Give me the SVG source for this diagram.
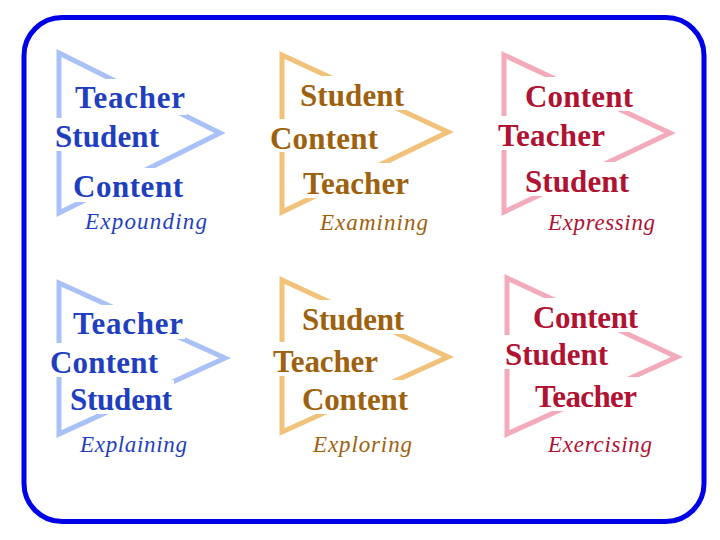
<svg xmlns="http://www.w3.org/2000/svg" width="720" height="540" viewBox="0 0 720 540">
<style>
.tri{fill:none;stroke-width:5;stroke-linejoin:miter}
.blue{stroke:#a9c1f6}
.orange{stroke:#f0c27a}
.pink{stroke:#f3aabb}
.bg{fill:#ffffff}
.w{font-family:"Liberation Serif","Times New Roman",serif;font-weight:bold;font-size:31px}
.lbl{font-family:"Liberation Serif","Times New Roman",serif;font-style:italic;font-size:23px}
.tb{fill:#1f3fbf}
.to{fill:#9e620f}
.tp{fill:#b01232}
</style>
<rect width="720" height="540" fill="#ffffff"/>
<rect id="frame" x="24" y="17.5" width="680" height="504" rx="38" ry="38" fill="none" stroke="#0000e6" stroke-width="5"/>

<g id="expounding">
<polygon class="tri blue" points="59,53 220,133 59,213"/>
<rect class="bg" x="73" y="79" width="114" height="36"/>
<rect class="bg" x="53" y="118" width="109" height="33"/>
<rect class="bg" x="71" y="168" width="114" height="34"/>
<text class="w tb" x="75" y="108" textLength="110">Teacher</text>
<text class="w tb" x="55" y="147" textLength="104">Student</text>
<text class="w tb" x="73" y="197" textLength="110">Content</text>
<text class="lbl tb" x="85" y="229" textLength="122">Expounding</text>
</g>

<g id="examining">
<polygon class="tri orange" points="282,55 448,132 282,212"/>
<rect class="bg" x="298" y="76" width="110" height="34"/>
<rect class="bg" x="268" y="119" width="112" height="33"/>
<rect class="bg" x="301" y="163" width="110" height="35"/>
<text class="w to" x="300" y="106" textLength="104">Student</text>
<text class="w to" x="270" y="149" textLength="108">Content</text>
<text class="w to" x="303" y="194" textLength="106">Teacher</text>
<text class="lbl to" x="320" y="230" textLength="108">Examining</text>
</g>

<g id="expressing">
<polygon class="tri pink" points="504,55 670,133 504,212"/>
<rect class="bg" x="523" y="77" width="112" height="34"/>
<rect class="bg" x="496" y="116" width="111" height="34"/>
<rect class="bg" x="523" y="162" width="108" height="34"/>
<text class="w tp" x="525" y="107" textLength="108">Content</text>
<text class="w tp" x="498" y="146" textLength="107">Teacher</text>
<text class="w tp" x="525" y="192" textLength="104">Student</text>
<text class="lbl tp" x="548" y="230" textLength="107">Expressing</text>
</g>

<g id="explaining">
<polygon class="tri blue" points="59,283 225,358 59,434"/>
<rect class="bg" x="71" y="305" width="114" height="34"/>
<rect class="bg" x="48" y="343" width="112" height="34"/>
<rect class="bg" x="68" y="380" width="106" height="34"/>
<text class="w tb" x="73" y="334" textLength="110">Teacher</text>
<text class="w tb" x="50" y="373" textLength="108">Content</text>
<text class="w tb" x="70" y="410" textLength="102">Student</text>
<text class="lbl tb" x="80" y="452" textLength="107">Explaining</text>
</g>

<g id="exploring">
<polygon class="tri orange" points="282,280 448,357 282,432"/>
<rect class="bg" x="300" y="300" width="106" height="34"/>
<rect class="bg" x="271" y="342" width="109" height="34"/>
<rect class="bg" x="300" y="380" width="110" height="34"/>
<text class="w to" x="302" y="330" textLength="102">Student</text>
<text class="w to" x="273" y="372" textLength="105">Teacher</text>
<text class="w to" x="302" y="410" textLength="106">Content</text>
<text class="lbl to" x="313" y="452" textLength="99">Exploring</text>
</g>

<g id="exercising">
<polygon class="tri pink" points="507,278 677,357 507,434"/>
<rect class="bg" x="531" y="298" width="109" height="34"/>
<rect class="bg" x="503" y="335" width="107" height="34"/>
<rect class="bg" x="533" y="377" width="106" height="34"/>
<text class="w tp" x="533" y="328" textLength="105">Content</text>
<text class="w tp" x="505" y="365" textLength="103">Student</text>
<text class="w tp" x="535" y="407" textLength="102">Teacher</text>
<text class="lbl tp" x="548" y="452" textLength="104">Exercising</text>
</g>
</svg>
